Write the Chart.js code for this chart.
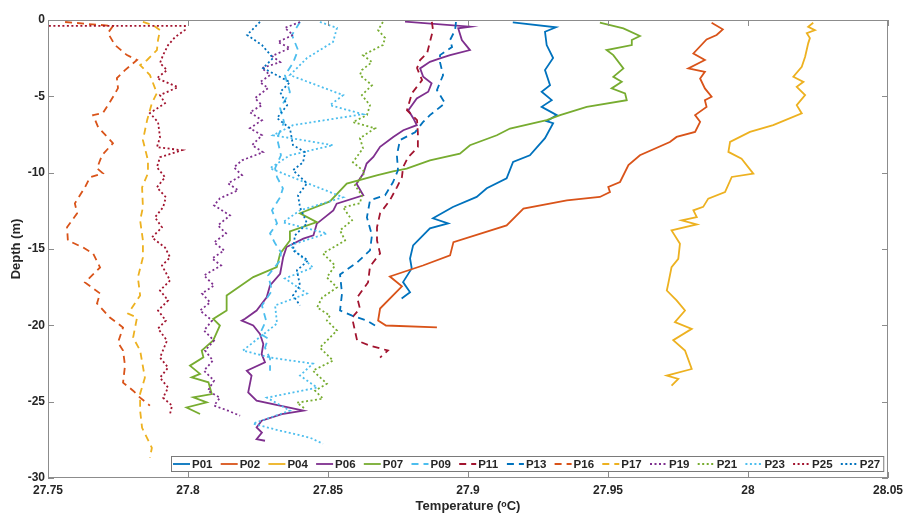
<!DOCTYPE html>
<html>
<head>
<meta charset="utf-8">
<script src="https://cdn.jsdelivr.net/npm/chart.js@4.4.0/dist/chart.umd.min.js"></script>
<style>
  html, body { margin: 0; padding: 0; background: #fff; }
</style>
</head>
<body>
<canvas id="profiles" width="904" height="514"></canvas>
<script>
// temperature (degC) and depth (m)
const p01Temp = [27.916, 27.9314, 27.9275, 27.9281, 27.9304, 27.9275, 27.9293, 27.9263, 27.9299, 27.9263, 27.9317, 27.9281, 27.9304, 27.9275, 27.9221, 27.9161, 27.9138, 27.9067, 27.9031, 27.8946, 27.8875, 27.8929, 27.8864, 27.8804, 27.8793, 27.8799, 27.8768, 27.8793, 27.8763];
const p01Depth = [-0.15, -0.48, -0.77, -1.64, -2.49, -3.28, -4.27, -4.70, -5.25, -5.69, -6.23, -6.63, -6.76, -7.74, -8.86, -9.30, -10.37, -11.02, -11.59, -12.25, -12.99, -13.32, -13.65, -14.76, -15.62, -16.27, -17.17, -17.83, -18.24];

const p02Temp = [27.987, 27.991, 27.9888, 27.9852, 27.9805, 27.9846, 27.9787, 27.9846, 27.9829, 27.9846, 27.987, 27.9846, 27.9852, 27.9811, 27.9829, 27.9811, 27.9745, 27.9721, 27.9614, 27.9573, 27.9543, 27.9501, 27.9507, 27.9471, 27.9353, 27.9198, 27.9138, 27.8948, 27.8936, 27.8839, 27.8721, 27.8764, 27.8686, 27.8679, 27.8707, 27.8889];
const p02Depth = [-0.18, -0.61, -0.98, -1.27, -2.19, -2.62, -3.17, -3.39, -3.83, -4.48, -5.03, -5.25, -5.69, -6.23, -6.67, -7.33, -7.66, -7.99, -8.86, -9.51, -10.61, -10.94, -11.27, -11.59, -11.81, -12.36, -13.45, -14.55, -15.42, -16.08, -16.80, -17.45, -18.90, -19.69, -20.01, -20.14];

const p04Temp = [28.0233, 28.0215, 28.0239, 28.0210, 28.0221, 28.0215, 28.0204, 28.0192, 28.0162, 28.0198, 28.0174, 28.0204, 28.0174, 28.0192, 28.0090, 28.0007, 27.9936, 27.9930, 27.9977, 28.0019, 27.9942, 27.9918, 27.9858, 27.9840, 27.9805, 27.9817, 27.9763, 27.9817, 27.9727, 27.9757, 27.9751, 27.9727, 27.9715, 27.9710, 27.9745, 27.9775, 27.9739, 27.9799, 27.9733, 27.9775, 27.9799, 27.9710, 27.9751, 27.9727];
const p04Depth = [-0.18, -0.44, -0.66, -0.87, -1.18, -1.53, -2.41, -3.06, -3.72, -4.05, -4.38, -4.92, -5.58, -6.12, -6.89, -7.33, -7.98, -8.64, -9.08, -10.06, -10.28, -11.27, -11.70, -12.24, -12.47, -12.91, -13.12, -13.39, -13.78, -14.65, -15.64, -16.19, -17.28, -17.72, -18.37, -19.03, -19.79, -20.23, -20.97, -21.65, -22.86, -23.29, -23.51, -23.95];

const p06Temp = [27.8775, 27.9007, 27.8965, 27.8978, 27.9007, 27.8936, 27.8900, 27.8864, 27.8829, 27.8840, 27.8870, 27.8858, 27.8817, 27.8787, 27.8805, 27.8817, 27.8769, 27.8733, 27.8686, 27.8662, 27.8638, 27.8626, 27.8602, 27.8626, 27.8531, 27.8519, 27.8460, 27.8448, 27.8412, 27.8352, 27.8340, 27.8329, 27.8293, 27.8281, 27.8245, 27.8204, 27.8192, 27.8233, 27.8257, 27.8269, 27.8263, 27.8275, 27.8210, 27.8227, 27.8215, 27.8245, 27.8412, 27.8335, 27.8263, 27.8245, 27.8264, 27.8245, 27.8275];
const p06Depth = [-0.11, -0.44, -0.54, -1.31, -1.97, -2.30, -2.51, -2.74, -3.17, -3.72, -4.15, -4.70, -5.14, -5.91, -6.45, -6.89, -7.22, -7.66, -8.31, -8.97, -9.40, -10.06, -10.72, -11.48, -12.03, -12.47, -13.34, -14.11, -14.32, -14.87, -15.53, -16.62, -17.39, -18.16, -19.03, -19.57, -19.69, -20.01, -20.56, -21.22, -21.88, -22.42, -22.97, -23.29, -24.39, -24.93, -25.59, -25.81, -26.25, -26.69, -27.03, -27.45, -27.56];

const p07Temp = [27.9471, 27.9555, 27.9614, 27.9585, 27.9585, 27.9495, 27.9519, 27.9555, 27.9519, 27.9549, 27.9513, 27.9561, 27.9567, 27.9424, 27.9329, 27.9281, 27.9150, 27.9103, 27.9007, 27.8971, 27.8864, 27.8781, 27.8732, 27.8674, 27.8567, 27.8507, 27.8400, 27.8460, 27.8364, 27.8364, 27.8329, 27.8317, 27.8233, 27.8138, 27.8138, 27.8090, 27.8114, 27.8090, 27.8049, 27.8055, 27.8007, 27.8043, 27.8013, 27.8073, 27.8085, 27.8019, 27.8067, 27.7995, 27.8043];
const p07Depth = [-0.18, -0.55, -1.05, -1.31, -1.64, -1.97, -2.30, -3.17, -3.72, -4.05, -4.48, -4.81, -5.25, -5.69, -6.23, -6.56, -7.11, -7.55, -8.20, -8.75, -9.19, -9.74, -9.91, -10.17, -10.72, -11.88, -12.66, -13.24, -13.85, -14.44, -15.31, -16.19, -16.84, -18.04, -19.03, -19.58, -20.01, -20.99, -21.65, -22.09, -22.64, -23.18, -23.41, -23.73, -24.50, -24.72, -25.05, -25.38, -25.81];

const p09Temp = [27.8400, 27.8371, 27.8393, 27.8375, 27.8346, 27.8364, 27.8329, 27.8343, 27.8318, 27.8332, 27.8311, 27.8318, 27.8339, 27.8329, 27.8300, 27.8318, 27.8293, 27.8311, 27.8332, 27.8329, 27.8286, 27.8300, 27.8264, 27.8279, 27.8257, 27.8286, 27.8275, 27.8293, 27.8293];
const p09Depth = [-0.13, -0.98, -1.97, -2.82, -3.61, -4.72, -5.77, -6.69, -7.74, -8.86, -9.71, -10.30, -11.02, -11.61, -12.47, -13.32, -13.98, -14.63, -15.22, -15.75, -16.73, -17.72, -18.70, -19.69, -20.54, -20.87, -21.46, -22.18, -22.97];

const p11Temp = [27.8871, 27.8875, 27.8864, 27.8854, 27.8829, 27.8818, 27.8836, 27.8800, 27.8782, 27.8818, 27.8821, 27.8821, 27.8786, 27.8768, 27.8764, 27.8746, 27.8721, 27.8686, 27.8675, 27.8675, 27.8686, 27.8650, 27.8643, 27.8604, 27.8614, 27.8586, 27.8596, 27.8604, 27.8650, 27.8714, 27.8686];
const p11Depth = [-0.13, -0.66, -1.44, -2.17, -2.62, -3.15, -3.94, -4.79, -5.91, -6.56, -7.41, -8.33, -8.99, -9.65, -10.30, -10.96, -11.81, -12.66, -13.58, -14.44, -15.29, -16.14, -17.19, -18.18, -18.90, -19.49, -20.34, -21.00, -21.33, -21.65, -22.11];

const p13Temp = [27.8957, 27.8954, 27.8936, 27.8943, 27.8900, 27.8900, 27.8911, 27.8889, 27.8918, 27.8864, 27.8839, 27.8811, 27.8757, 27.8746, 27.8750, 27.8732, 27.8704, 27.8650, 27.8639, 27.8657, 27.8650, 27.8604, 27.8543, 27.8550, 27.8543, 27.8586, 27.8639, 27.8668];
const p13Depth = [-0.13, -0.66, -1.31, -1.77, -2.30, -2.76, -3.61, -4.59, -5.45, -6.23, -6.69, -7.35, -7.87, -8.86, -9.84, -10.63, -11.48, -11.81, -12.93, -14.11, -15.09, -15.88, -16.67, -17.91, -19.03, -19.36, -19.69, -20.01];

const p16Temp = [27.7561, 27.7643, 27.7732, 27.7714, 27.7739, 27.7782, 27.7818, 27.7775, 27.7746, 27.7750, 27.7732, 27.7696, 27.7661, 27.7679, 27.7732, 27.7693, 27.7675, 27.7696, 27.7650, 27.7632, 27.7596, 27.7604, 27.7568, 27.7571, 27.7625, 27.7661, 27.7686, 27.7632, 27.7686, 27.7675, 27.7721, 27.7768, 27.7750, 27.7768, 27.7775, 27.7768, 27.7804, 27.7829, 27.7864];
const p16Depth = [-0.13, -0.26, -0.39, -0.85, -1.64, -2.30, -2.62, -3.28, -3.81, -4.46, -5.05, -6.10, -6.23, -7.02, -8.07, -8.86, -9.71, -10.04, -10.30, -10.96, -12.01, -12.66, -13.58, -14.44, -14.90, -15.29, -16.21, -17.19, -17.91, -18.57, -19.49, -20.14, -21.13, -21.65, -22.64, -23.75, -24.28, -24.74, -25.26];

const p17Temp = [27.7839, 27.7875, 27.7900, 27.7893, 27.7889, 27.7854, 27.7829, 27.7864, 27.7889, 27.7871, 27.7854, 27.7839, 27.7857, 27.7857, 27.7836, 27.7839, 27.7829, 27.7839, 27.7839, 27.7821, 27.7829, 27.7786, 27.7818, 27.7804, 27.7829, 27.7846, 27.7829, 27.7829, 27.7836, 27.7871, 27.7864];
const p17Depth = [-0.13, -0.33, -0.66, -1.31, -1.97, -2.62, -2.95, -3.61, -4.79, -5.45, -6.56, -7.87, -9.19, -10.04, -10.96, -12.27, -13.12, -14.44, -15.55, -16.86, -18.04, -19.23, -19.49, -20.80, -21.65, -23.43, -24.48, -25.59, -26.71, -28.02, -28.67];

const p19Temp = [27.8400, 27.8346, 27.8375, 27.8321, 27.8364, 27.8300, 27.8329, 27.8264, 27.8293, 27.8257, 27.8286, 27.8239, 27.8264, 27.8221, 27.8264, 27.8221, 27.8264, 27.8229, 27.8268, 27.8193, 27.8164, 27.8193, 27.8143, 27.8179, 27.8114, 27.8093, 27.8150, 27.8107, 27.8136, 27.8093, 27.8129, 27.8086, 27.8118, 27.8057, 27.8093, 27.8050, 27.8079, 27.8043, 27.8086, 27.8057, 27.8093, 27.8061, 27.8089, 27.8057, 27.8093, 27.8071, 27.8114, 27.8093, 27.8143, 27.8186];
const p19Depth = [-0.13, -0.52, -0.98, -1.44, -1.84, -2.36, -2.76, -3.15, -3.61, -4.07, -4.46, -5.12, -5.58, -6.04, -6.56, -7.09, -7.55, -8.20, -8.66, -9.19, -9.65, -10.17, -10.70, -11.15, -11.68, -12.14, -12.80, -13.45, -13.98, -14.57, -15.09, -15.62, -16.08, -16.73, -17.39, -17.91, -18.50, -19.03, -19.69, -20.34, -21.00, -21.65, -22.31, -22.97, -23.62, -24.28, -24.74, -25.26, -25.59, -25.92];

const p21Temp = [27.8696, 27.8679, 27.8704, 27.8696, 27.8625, 27.8657, 27.8621, 27.8614, 27.8657, 27.8621, 27.8650, 27.8639, 27.8589, 27.8668, 27.8614, 27.8625, 27.8589, 27.8632, 27.8596, 27.8621, 27.8614, 27.8554, 27.8586, 27.8543, 27.8561, 27.8482, 27.8525, 27.8496, 27.8532, 27.8479, 27.8461, 27.8507, 27.8496, 27.8532, 27.8471, 27.8518, 27.8446, 27.8496, 27.8454, 27.8482, 27.8389, 27.8418];
const p21Depth = [-0.13, -0.66, -1.18, -1.64, -2.30, -2.76, -3.28, -3.61, -4.27, -4.92, -5.58, -6.23, -6.69, -7.09, -7.74, -8.40, -9.32, -9.97, -10.83, -11.48, -12.01, -12.27, -13.12, -13.78, -14.44, -15.29, -16.08, -16.86, -17.52, -18.18, -18.83, -19.36, -19.69, -20.34, -21.46, -22.31, -22.97, -23.82, -24.28, -24.80, -25.07, -25.46];

const p23Temp = [27.8471, 27.8532, 27.8518, 27.8425, 27.8364, 27.8554, 27.8507, 27.8625, 27.8375, 27.8304, 27.8518, 27.8364, 27.8293, 27.8400, 27.8554, 27.8400, 27.8339, 27.8496, 27.8364, 27.8400, 27.8446, 27.8346, 27.8425, 27.8311, 27.8318, 27.8196, 27.8293, 27.8446, 27.8400, 27.8461, 27.8282, 27.8364, 27.8232, 27.8329, 27.8436, 27.8482];
const p23Depth = [-0.13, -0.52, -1.44, -2.49, -3.61, -4.92, -5.58, -6.17, -6.89, -7.55, -8.20, -8.86, -9.71, -10.50, -11.61, -12.47, -13.25, -13.98, -14.76, -15.42, -16.21, -16.93, -17.91, -18.70, -19.88, -21.65, -22.11, -22.51, -23.29, -24.08, -24.74, -25.59, -26.44, -26.90, -27.36, -27.76];

const p25Temp = [27.7471, 27.7989, 27.7989, 27.7954, 27.7929, 27.7911, 27.7900, 27.7925, 27.7889, 27.7964, 27.7900, 27.7918, 27.7864, 27.7893, 27.7900, 27.7889, 27.7979, 27.7900, 27.7889, 27.7918, 27.7889, 27.7921, 27.7911, 27.7882, 27.7907, 27.7871, 27.7918, 27.7936, 27.7907, 27.7936, 27.7900, 27.7929, 27.7893, 27.7921, 27.7893, 27.7925, 27.7900, 27.7929, 27.7900, 27.7929, 27.7911, 27.7943, 27.7936];
const p25Depth = [-0.39, -0.39, -0.66, -1.12, -1.64, -2.30, -2.82, -3.28, -3.81, -4.40, -4.92, -5.45, -6.10, -6.69, -7.68, -8.33, -8.53, -8.99, -9.65, -10.30, -10.96, -11.61, -12.27, -12.93, -13.58, -14.24, -14.90, -15.55, -16.08, -17.06, -17.72, -18.37, -19.03, -19.69, -20.21, -21.00, -22.11, -22.77, -23.43, -24.08, -24.74, -25.26, -25.79];

const p27Temp = [27.8257, 27.8211, 27.8264, 27.8304, 27.8268, 27.8364, 27.8329, 27.8354, 27.8318, 27.8364, 27.8375, 27.8418, 27.8411, 27.8375, 27.8425, 27.8393, 27.8400, 27.8425, 27.8382, 27.8375, 27.8429, 27.8389, 27.8400, 27.8375, 27.8400];
const p27Depth = [-0.13, -0.98, -1.64, -2.49, -3.15, -4.07, -4.72, -5.58, -6.43, -7.09, -8.20, -8.66, -9.32, -9.84, -10.70, -11.48, -12.27, -13.32, -14.11, -15.09, -15.75, -16.40, -17.39, -18.04, -18.70];

const stations = ["P01", "P02", "P04", "P06", "P07", "P09", "P11", "P13", "P16", "P17", "P19", "P21", "P23", "P25", "P27"];
const temps = [p01Temp, p02Temp, p04Temp, p06Temp, p07Temp, p09Temp, p11Temp, p13Temp, p16Temp, p17Temp, p19Temp, p21Temp, p23Temp, p25Temp, p27Temp];
const depths = [p01Depth, p02Depth, p04Depth, p06Depth, p07Depth, p09Depth, p11Depth, p13Depth, p16Depth, p17Depth, p19Depth, p21Depth, p23Depth, p25Depth, p27Depth];

const xTicks = [27.75, 27.8, 27.85, 27.9, 27.95, 28, 28.05];
const xTickLabels = ["27.75", "27.8", "27.85", "27.9", "27.95", "28", "28.05"];
const yTicks = [-30, -25, -20, -15, -10, -5, 0];

// matlab default colour order, solid / dashed / dotted
const palette = ["#0072BD", "#D95319", "#EDB120", "#7E2F8E", "#77AC30", "#4DBEEE", "#A2142F"];
const dashFor = i => (i < 5 ? [] : i < 10 ? [7, 5] : [2, 2.5]);

const fontFamily = "'Liberation Sans', 'DejaVu Sans', Arial, sans-serif";
const inkColor = "#262626";
const frameColor = "#8c8c8c";

const datasets = stations.map((name, i) => ({
  label: name,
  data: temps[i].map((t, k) => ({ x: t, y: depths[i][k] })),
  borderColor: palette[i % palette.length],
  borderWidth: 1.8,
  borderDash: dashFor(i),
  pointRadius: 0,
  tension: 0,
  showLine: true,
  fill: false,
  order: stations.length - i
}));

// box round the axes with inward ticks, like matlab "box on"
const axesFrame = {
  id: "axesFrame",
  afterDatasetsDraw(chart) {
    const { ctx, chartArea: a, scales: { x, y } } = chart;
    ctx.save();
    ctx.strokeStyle = frameColor;
    ctx.lineWidth = 1;
    ctx.setLineDash([]);
    ctx.strokeRect(a.left + 0.5, a.top + 0.5, a.right - a.left - 1, a.bottom - a.top - 1);
    ctx.beginPath();
    x.ticks.forEach(t => {
      const px = Math.round(x.getPixelForValue(t.value)) + 0.5;
      ctx.moveTo(px, a.bottom); ctx.lineTo(px, a.bottom - 6);
      ctx.moveTo(px, a.top); ctx.lineTo(px, a.top + 6);
    });
    y.ticks.forEach(t => {
      const py = Math.round(y.getPixelForValue(t.value)) + 0.5;
      ctx.moveTo(a.left, py); ctx.lineTo(a.left + 6, py);
      ctx.moveTo(a.right, py); ctx.lineTo(a.right - 6, py);
    });
    ctx.stroke();
    ctx.restore();
  }
};

// one-row legend sitting inside the bottom of the axes
const legendStrip = {
  id: "legendStrip",
  afterDraw(chart) {
    const { ctx, chartArea: a } = chart;
    const sets = chart.data.datasets;
    const step = 47.7;
    const left = a.left + 123;
    const top = a.bottom - 22;
    const h = 15;
    ctx.save();
    ctx.font = "bold 11.5px " + fontFamily;
    const lastW = ctx.measureText(sets[sets.length - 1].label).width;
    const right = left + 21 + (sets.length - 1) * step + lastW + 3;
    ctx.fillStyle = "#fff";
    ctx.fillRect(left, top, right - left, h);
    ctx.strokeStyle = "#7a7a7a";
    ctx.lineWidth = 1;
    ctx.strokeRect(left + 0.5, top + 0.5, right - left, h);
    const cy = top + h / 2 + 0.5;
    sets.forEach((ds, i) => {
      const tx = left + 21 + i * step;
      ctx.strokeStyle = ds.borderColor;
      ctx.lineWidth = 1.8;
      ctx.setLineDash(ds.borderDash);
      ctx.beginPath();
      ctx.moveTo(tx - 19, cy);
      ctx.lineTo(tx - 2, cy);
      ctx.stroke();
      ctx.setLineDash([]);
      ctx.fillStyle = inkColor;
      ctx.textBaseline = "middle";
      ctx.fillText(ds.label, tx, cy + 0.5);
    });
    ctx.restore();
  }
};

new Chart(document.getElementById("profiles"), {
  type: "scatter",
  data: { datasets },
  options: {
    responsive: false,
    animation: false,
    layout: { padding: { top: 20, right: 16, left: 0, bottom: 0 } },
    plugins: { legend: { display: false }, tooltip: { enabled: false } },
    scales: {
      x: {
        type: "linear",
        min: 27.75,
        max: 28.05,
        afterBuildTicks: s => { s.ticks = xTicks.map(v => ({ value: v })); },
        afterFit: s => { s.height = 36; s.paddingLeft = 0; s.paddingRight = 0; },
        grid: { display: false, drawTicks: false },
        border: { display: false },
        ticks: {
          padding: 5,
          color: inkColor,
          font: { family: fontFamily, size: 12, weight: "bold" },
          callback: (v, i) => xTickLabels[i]
        },
        title: {
          display: true,
          text: "Temperature (ᵒC)",
          color: inkColor,
          padding: { top: 0, bottom: 0 },
          font: { family: fontFamily, size: 13, weight: "bold" }
        }
      },
      y: {
        type: "linear",
        min: -30,
        max: 0,
        afterBuildTicks: s => { s.ticks = yTicks.map(v => ({ value: v })); },
        afterFit: s => { s.width = 48; s.paddingTop = 0; s.paddingBottom = 0; },
        grid: { display: false, drawTicks: false },
        border: { display: false },
        ticks: {
          padding: 3,
          color: inkColor,
          font: { family: fontFamily, size: 12, weight: "bold" }
        },
        title: {
          display: true,
          text: "Depth (m)",
          color: inkColor,
          padding: { top: 9, bottom: 0 },
          font: { family: fontFamily, size: 13, weight: "bold" }
        }
      }
    }
  },
  plugins: [axesFrame, legendStrip]
});
</script>
</body>
</html>
